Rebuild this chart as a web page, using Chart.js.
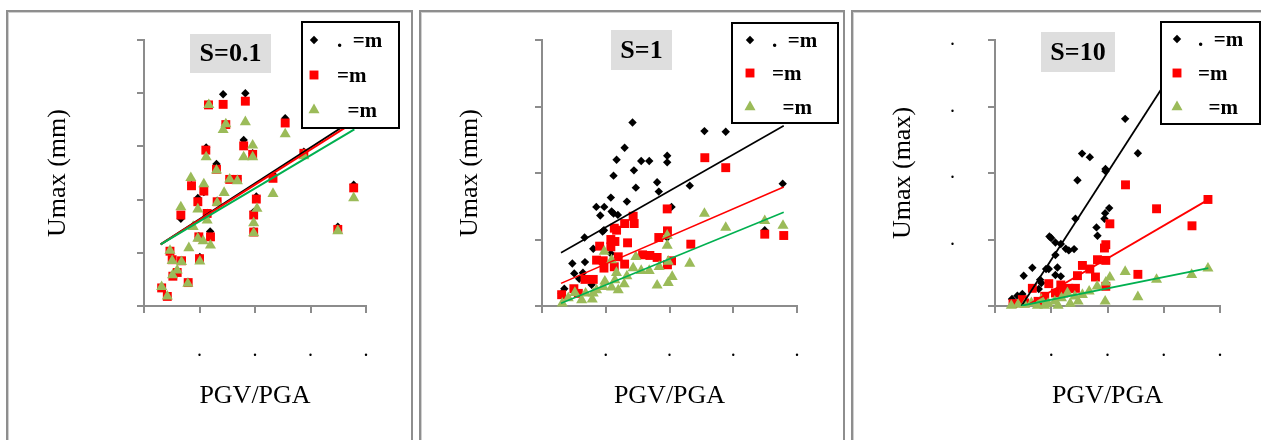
<!DOCTYPE html>
<html>
<head>
<meta charset="utf-8">
<script src="https://cdn.jsdelivr.net/npm/chart.js@4.4.1/dist/chart.umd.min.js"></script>
<style>
  body { margin: 0; background: #fff; width: 1261px; height: 440px; overflow: hidden; position: relative; }
  .frame { position: absolute; top: 10px; height: 440px; border: 2px solid #8e8e8e; border-bottom: none; box-shadow: inset 1px 1px 0 #d0d0d0; }
  canvas { position: absolute; top: 12px; }
</style>
</head>
<body>
<div class="frame" style="left:6px;width:403px"></div>
<div class="frame" style="left:419px;width:422px"></div>
<div class="frame" style="left:851px;width:500px"></div>
<canvas id="chartS01" width="403" height="428" style="left:8px"></canvas>
<canvas id="chartS1" width="421" height="428" style="left:421px"></canvas>
<canvas id="chartS10" width="408" height="428" style="left:853px"></canvas>
<script>
// tick labels (digits are lost in the source picture, only the dots remain)
const xTickLabels = ['', '.', '.', '.', '.'];
const yTickLabelsS01 = ['', '', '', '', '', ''];
const yTickLabelsS1 = ['', '', '', '', ''];
const yTickLabelsS10 = ['', '.', '.', '.', '.'];
const legendLabels = ['.  =m', '=m', '  =m'];

// ---- S=0.1 ----
const s01BlackX = [0.0713, 0.0913, 0.1272, 0.0898, 0.0560, 0.0653, 0.1168, 0.0539, 0.0485, 0.0332, 0.1012, 0.0988, 0.0596, 0.0503, 0.1746, 0.1889, 0.1440, 0.0581, 0.0737, 0.0979, 0.0772, 0.0841, 0.0428, 0.0659, 0.0569, 0.0988, 0.0494, 0.0234, 0.0254, 0.0338, 0.0299, 0.0398, 0.0159, 0.0210, 0.0260];
const s01BlackY = [39.8, 40.0, 35.3, 31.2, 29.8, 26.7, 24.6, 21.4, 20.3, 16.4, 20.6, 17.7, 14.0, 9.2, 14.9, 22.8, 29.0, 38.0, 34.3, 28.7, 23.9, 23.9, 22.7, 19.8, 17.5, 14.1, 13.1, 10.4, 8.8, 8.6, 6.4, 4.5, 3.5, 1.9, 5.7];
const s01RedX = [0.0713, 0.0913, 0.0581, 0.0737, 0.1272, 0.0898, 0.0557, 0.0979, 0.0653, 0.0772, 0.0841, 0.0428, 0.0539, 0.0485, 0.1012, 0.0659, 0.0569, 0.0332, 0.0988, 0.0988, 0.0494, 0.0599, 0.1162, 0.1440, 0.1889, 0.1746, 0.0234, 0.0254, 0.0338, 0.0299, 0.0500, 0.0398, 0.0159, 0.0210, 0.0260];
const s01RedY = [37.9, 38.5, 37.8, 34.1, 34.4, 30.1, 29.3, 28.5, 25.7, 23.8, 23.8, 22.6, 21.6, 19.6, 20.1, 19.6, 17.4, 17.1, 17.1, 13.9, 13.0, 13.0, 24.0, 28.7, 22.2, 14.4, 10.3, 8.7, 8.5, 6.3, 8.9, 4.4, 3.4, 1.8, 5.6];
const s01GreenX = [0.0584, 0.0737, 0.0713, 0.0913, 0.1272, 0.0898, 0.0979, 0.0979, 0.0560, 0.0653, 0.0772, 0.0841, 0.0422, 0.0539, 0.0722, 0.1162, 0.1440, 0.0332, 0.0485, 0.0659, 0.0569, 0.1018, 0.0988, 0.0988, 0.1889, 0.1746, 0.0443, 0.0485, 0.0533, 0.0599, 0.0404, 0.0234, 0.0254, 0.0503, 0.0338, 0.0299, 0.0257, 0.0395, 0.0159, 0.0210];
const s01GreenY = [37.8, 34.2, 33.1, 34.6, 32.3, 28.0, 30.2, 28.0, 28.0, 25.5, 23.8, 23.5, 24.1, 22.9, 21.3, 21.1, 28.2, 18.6, 18.2, 19.4, 16.1, 18.3, 15.6, 13.7, 20.3, 14.1, 14.9, 12.7, 12.2, 11.4, 10.9, 10.4, 8.5, 8.4, 8.3, 6.7, 5.8, 4.2, 3.6, 1.8];
const s01TrendX = [0.015, 0.1895];
const s01TrendBlack = [11.6, 35.1];
const s01TrendRed = [11.6, 34.6];
const s01TrendGreen = [11.6, 33.2];

// ---- S=1 ----
const s1BlackX = [0.0710, 0.0648, 0.0585, 0.0561, 0.0721, 0.0778, 0.0841, 0.0982, 0.0982, 0.0736, 0.0903, 0.0916, 0.0666, 0.0540, 0.0426, 0.0457, 0.0488, 0.0546, 0.0561, 0.0595, 0.0486, 0.0475, 0.0334, 0.0402, 0.0238, 0.0253, 0.0321, 0.0337, 0.0292, 0.0175, 0.1016, 0.1159, 0.1274, 0.1441, 0.1888, 0.1747, 0.0982, 0.0540, 0.0389, 0.0154];
const s1BlackY = [27.6, 23.8, 22.0, 19.6, 20.4, 21.8, 21.8, 22.6, 21.6, 17.8, 18.6, 17.2, 15.7, 16.3, 14.9, 13.6, 14.9, 14.2, 13.9, 13.7, 11.4, 11.2, 10.3, 8.6, 6.4, 4.9, 5.0, 6.6, 4.1, 2.6, 14.9, 18.1, 26.3, 26.2, 18.4, 11.4, 10.3, 7.9, 3.2, 1.9];
const s1RedX = [0.1277, 0.1441, 0.0982, 0.0715, 0.0723, 0.0648, 0.0567, 0.0585, 0.0540, 0.0540, 0.0671, 0.0452, 0.0984, 0.0916, 0.1167, 0.0789, 0.0846, 0.0903, 0.0598, 0.0428, 0.0480, 0.0486, 0.0567, 0.0648, 0.1016, 0.0984, 0.1747, 0.1896, 0.0337, 0.0402, 0.0250, 0.0154, 0.0285, 0.0572];
const s1RedY = [22.3, 20.8, 14.6, 13.5, 12.4, 12.4, 11.7, 11.4, 10.0, 8.9, 9.5, 9.0, 11.3, 10.3, 9.3, 7.7, 7.6, 7.3, 7.4, 6.9, 6.8, 5.7, 5.9, 6.3, 6.8, 6.2, 10.8, 10.6, 4.0, 4.0, 2.6, 1.7, 1.9, 9.7];
const s1GreenX = [0.1274, 0.1441, 0.1747, 0.1890, 0.0982, 0.0982, 0.0990, 0.1021, 0.0990, 0.1159, 0.0903, 0.0919, 0.0841, 0.0778, 0.0736, 0.0715, 0.0666, 0.0645, 0.0584, 0.0598, 0.0546, 0.0488, 0.0493, 0.0428, 0.0394, 0.0342, 0.0258, 0.0311, 0.0206, 0.0159, 0.0546, 0.0572, 0.0402, 0.0480];
const s1GreenY = [13.9, 11.8, 12.8, 12.1, 10.6, 9.1, 6.7, 4.4, 3.5, 6.4, 3.1, 5.9, 5.3, 5.3, 7.4, 5.7, 4.5, 3.3, 5.0, 2.4, 2.8, 8.2, 3.7, 2.4, 1.0, 1.9, 2.0, 0.9, 1.2, 0.4, 6.9, 3.9, 1.9, 2.9];
const s1TrendX = [0.0149, 0.1896];
const s1TrendBlack = [8.0, 27.1];
const s1TrendRed = [3.4, 17.9];
const s1TrendGreen = [0.4, 14.1];

// ---- S=10 ----
const s10BlackX = [0.1157, 0.1270, 0.0774, 0.0843, 0.0982, 0.0982, 0.0733, 0.1015, 0.0979, 0.0973, 0.0715, 0.0902, 0.0911, 0.0484, 0.0499, 0.0537, 0.0585, 0.0629, 0.0656, 0.0703, 0.0537, 0.0555, 0.0454, 0.0478, 0.0537, 0.0585, 0.0332, 0.0255, 0.0401, 0.0389, 0.0243, 0.0199, 0.0151, 0.0412];
const s10BlackY = [1.407, 1.149, 1.146, 1.119, 1.031, 1.014, 0.946, 0.736, 0.698, 0.656, 0.656, 0.591, 0.528, 0.523, 0.511, 0.478, 0.466, 0.431, 0.418, 0.428, 0.383, 0.290, 0.278, 0.278, 0.233, 0.223, 0.288, 0.228, 0.198, 0.128, 0.090, 0.078, 0.053, 0.173];
const s10RedX = [0.1160, 0.1893, 0.1436, 0.1751, 0.1021, 0.0985, 0.0973, 0.0911, 0.0985, 0.1270, 0.0777, 0.0843, 0.0893, 0.0733, 0.0478, 0.0585, 0.0656, 0.0715, 0.0332, 0.0537, 0.0611, 0.0442, 0.0243, 0.0160, 0.0264, 0.0383, 0.0985];
const s10RedY = [0.911, 0.801, 0.731, 0.603, 0.618, 0.461, 0.436, 0.348, 0.343, 0.238, 0.305, 0.278, 0.218, 0.228, 0.168, 0.158, 0.133, 0.133, 0.133, 0.098, 0.098, 0.073, 0.048, 0.018, 0.023, 0.035, 0.148];
const s10GreenX = [0.1893, 0.1748, 0.1436, 0.1157, 0.1270, 0.1021, 0.0985, 0.0979, 0.0908, 0.0837, 0.0777, 0.0709, 0.0644, 0.0668, 0.0591, 0.0531, 0.0472, 0.0412, 0.0323, 0.0264, 0.0205, 0.0145, 0.0377, 0.0561, 0.0739, 0.0442];
const s10GreenY = [0.283, 0.235, 0.198, 0.258, 0.068, 0.215, 0.178, 0.035, 0.148, 0.110, 0.085, 0.073, 0.098, 0.018, 0.060, 0.035, 0.018, 0.048, 0.023, 0.010, 0.010, 0.003, 0.003, 0.003, 0.035, 0.003];
const s10TrendBlackX = [0.0235, 0.176];
const s10TrendBlack = [0.0, 2.0];
const s10TrendRedX = [0.0309, 0.1896];
const s10TrendRed = [0.017, 0.80];
const s10TrendGreenX = [0.0235, 0.1896];
const s10TrendGreen = [0.002, 0.285];

Chart.defaults.font.family = '"Liberation Serif", "Times New Roman", serif';
Chart.defaults.color = '#000';

const AXIS_GREY = '#8c8c8c';

function toPoints(xs, ys) {
  return xs.map((x, i) => ({ x: x, y: ys[i] }));
}

// grey title box + boxed legend, drawn on top of the plot
const panelDecor = {
  id: 'panelDecor',
  afterDraw(chart, args, opts) {
    const ctx = chart.ctx;
    ctx.save();

    const t = opts.titleBox;
    ctx.fillStyle = '#dedede';
    ctx.fillRect(t.x, t.y, t.w, t.h);
    ctx.fillStyle = '#000';
    ctx.font = 'bold 26px "Liberation Serif"';
    ctx.textAlign = 'center';
    ctx.textBaseline = 'middle';
    ctx.fillText(opts.title, t.x + t.w / 2, t.y + t.h / 2 + 1);

    const L = opts.legendBox;
    ctx.fillStyle = '#fff';
    ctx.fillRect(L.x, L.y, L.w, L.h);
    ctx.lineWidth = 2;
    ctx.strokeStyle = '#000';
    ctx.strokeRect(L.x, L.y, L.w, L.h);

    ctx.font = 'bold 21px "Liberation Serif"';
    ctx.textAlign = 'left';
    for (let i = 0; i < 3; i++) {
      const ds = chart.data.datasets[i];
      ctx.fillStyle = ds.backgroundColor;
      Chart.helpers.drawPoint(ctx, { pointStyle: ds.pointStyle, radius: ds.pointRadius, rotation: 0, borderWidth: 0 }, opts.markerX, opts.rowY[i]);
      ctx.fillStyle = '#000';
      ctx.fillText(legendLabels[i], opts.textX, opts.rowY[i] + 2);
    }
    ctx.restore();
  }
};

function makePanel(id, cfg) {
  const scatter = (data, color, style, radius, order) => ({
    type: 'scatter',
    data: data,
    backgroundColor: color,
    borderColor: color,
    borderWidth: 0,
    pointStyle: style,
    pointRadius: radius,
    pointHoverRadius: radius,
    order: order,
    clip: false
  });
  const trend = (data, color, width, order) => ({
    type: 'line',
    data: data,
    borderColor: color,
    borderWidth: width,
    pointRadius: 0,
    fill: false,
    order: order
  });

  new Chart(id, {
    type: 'scatter',
    data: {
      datasets: [
        scatter(cfg.black, '#000000', 'rectRot', 4.2, 6),
        scatter(cfg.red, '#ff0000', 'rect', 6.3, 5),
        scatter(cfg.green, '#9bbb59', 'triangle', 6.4, 4),
        trend(cfg.lines[0], '#000000', cfg.lineWidth, 3),
        trend(cfg.lines[1], '#ff0000', cfg.lineWidth, 2),
        trend(cfg.lines[2], '#00b050', cfg.lineWidth, 1)
      ]
    },
    options: {
      responsive: false,
      animation: false,
      devicePixelRatio: 1,
      layout: { padding: { top: 28, right: cfg.right, left: 0, bottom: 0 } },
      plugins: {
        legend: { display: false },
        tooltip: { enabled: false },
        panelDecor: cfg.decor
      },
      scales: {
        x: {
          type: 'linear',
          min: 0, max: 0.2,
          ticks: {
            stepSize: 0.05,
            autoSkip: false,
            maxRotation: 0,
            padding: 26,
            font: { size: 20 },
            callback: (v, i) => xTickLabels[i]
          },
          grid: { drawOnChartArea: false, drawTicks: true, tickLength: 7, color: AXIS_GREY, lineWidth: 2 },
          border: { display: true, color: AXIS_GREY, width: 2 },
          title: { display: true, text: 'PGV/PGA', font: { size: 26 }, padding: { top: 0, bottom: 28 } },
          afterFit: (scale) => {
            scale.height = 134;
            scale.paddingLeft = 0;
            scale.paddingRight = 0;
          }
        },
        y: {
          type: 'linear',
          min: 0, max: cfg.yMax,
          ticks: {
            stepSize: cfg.yStep,
            autoSkip: false,
            padding: 33,
            font: { size: 20 },
            callback: (v, i) => cfg.yLabels[i]
          },
          grid: { drawOnChartArea: false, drawTicks: true, tickLength: 7, color: AXIS_GREY, lineWidth: 2 },
          border: { display: true, color: AXIS_GREY, width: 2 },
          title: { display: true, text: cfg.yTitle, font: { size: 26 }, padding: { top: cfg.yTitlePad, bottom: 0 } },
          afterFit: (scale) => {
            scale.width = cfg.axisLeft;
            // tick padding would otherwise push the plot top down
            scale.paddingTop = 0;
            scale.paddingBottom = 0;
          }
        }
      }
    },
    plugins: [panelDecor]
  });
}

makePanel('chartS01', {
  black: toPoints(s01BlackX, s01BlackY),
  red: toPoints(s01RedX, s01RedY),
  green: toPoints(s01GreenX, s01GreenY),
  lines: [toPoints(s01TrendX, s01TrendBlack), toPoints(s01TrendX, s01TrendRed), toPoints(s01TrendX, s01TrendGreen)],
  lineWidth: 2,
  yMax: 50, yStep: 10, yLabels: yTickLabelsS01,
  yTitle: 'Umax (mm)', yTitlePad: 35,
  axisLeft: 136, right: 45,
  decor: {
    title: 'S=0.1',
    titleBox: { x: 182, y: 22, w: 81, h: 39 },
    legendBox: { x: 294, y: 10, w: 97, h: 106 },
    markerX: 306, textX: 329, rowY: [28, 63, 98]
  }
});

makePanel('chartS1', {
  black: toPoints(s1BlackX, s1BlackY),
  red: toPoints(s1RedX, s1RedY),
  green: toPoints(s1GreenX, s1GreenY),
  lines: [toPoints(s1TrendX, s1TrendBlack), toPoints(s1TrendX, s1TrendRed), toPoints(s1TrendX, s1TrendGreen)],
  lineWidth: 1.6,
  yMax: 40, yStep: 10, yLabels: yTickLabelsS1,
  yTitle: 'Umax (mm)', yTitlePad: 34,
  axisLeft: 121, right: 45,
  decor: {
    title: 'S=1',
    titleBox: { x: 190, y: 18, w: 61, h: 40 },
    legendBox: { x: 311, y: 11, w: 106, h: 100 },
    markerX: 329, textX: 351, rowY: [28, 61, 95]
  }
});

makePanel('chartS10', {
  black: toPoints(s10BlackX, s10BlackY),
  red: toPoints(s10RedX, s10RedY),
  green: toPoints(s10GreenX, s10GreenY),
  lines: [toPoints(s10TrendBlackX, s10TrendBlack), toPoints(s10TrendRedX, s10TrendRed), toPoints(s10TrendGreenX, s10TrendGreen)],
  lineWidth: 1.8,
  yMax: 2, yStep: 0.5, yLabels: yTickLabelsS10,
  yTitle: 'Umax (max)', yTitlePad: 35,
  axisLeft: 142, right: 41,
  decor: {
    title: 'S=10',
    titleBox: { x: 188, y: 20, w: 74, h: 40 },
    legendBox: { x: 308, y: 10, w: 99, h: 102 },
    markerX: 324, textX: 345, rowY: [27, 61, 95]
  }
});
</script>
</body>
</html>
